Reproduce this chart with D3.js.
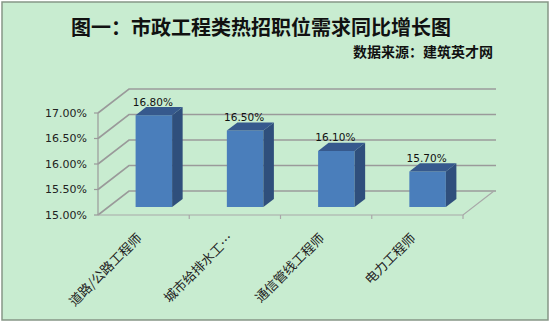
<!DOCTYPE html>
<html>
<head>
<meta charset="utf-8">
<script src="https://cdn.jsdelivr.net/npm/d3@7"></script>
<style>
  html, body { margin: 0; padding: 0; background: #ffffff; }
  svg { display: block; }
</style>
</head>
<body>
<svg id="chart" width="550" height="323"></svg>
<script>
var categories = ['道路/公路工程师', '城市给排水工…', '通信管线工程师', '电力工程师'];
var values = [16.80, 16.50, 16.10, 15.70];
var yTicks = [15.00, 15.50, 16.00, 16.50, 17.00];

var title = '图一：市政工程类热招职位需求同比增长图';
var source = '数据来源：建筑英才网';

var svg = d3.select('#chart');

// background + frame
svg.append('rect')
  .attr('x', 2).attr('y', 2)
  .attr('width', 546).attr('height', 318)
  .attr('fill', '#c8ecd0')
  .attr('stroke', '#869686')
  .attr('stroke-width', 1.5);

svg.append('text')
  .attr('x', 261).attr('y', 26)
  .attr('text-anchor', 'middle')
  .attr('dominant-baseline', 'central')
  .style('font-family', '"Noto Sans CJK SC", sans-serif')
  .style('font-weight', 'bold')
  .style('font-size', '20px')
  .attr('fill', '#111')
  .text(title);

svg.append('text')
  .attr('x', 493).attr('y', 51)
  .attr('text-anchor', 'end')
  .attr('dominant-baseline', 'central')
  .style('font-family', '"Noto Sans CJK SC", sans-serif')
  .style('font-weight', 'bold')
  .style('font-size', '14px')
  .attr('fill', '#111')
  .text(source);

/**
 * 3D projection: front plane + depth offset
 */
var depth = { dx: 31, dy: -24 };

var x = d3.scaleBand()
  .domain(categories)
  .range([98, 463])
  .paddingInner(0.6)
  .paddingOuter(0.3);

var xCat = d3.scaleBand()
  .domain(categories)
  .range([98, 463]);

var y = d3.scaleLinear()
  .domain([15, 17])
  .range([215, 113]);

function proj(px, py, z) {
  return [px + depth.dx * z, py + depth.dy * z];
}

var grid = svg.append('g').attr('class', 'grid');

var gridColor = '#9a9a9a';

// back wall gridlines + left wall diagonals
yTicks.forEach(function (t) {
  var a = proj(98, y(t), 0);
  var b = proj(98, y(t), 1);
  var c = proj(465, y(t), 1);
  grid.append('path')
    .attr('d', 'M' + a + 'L' + b + 'L' + c)
    .attr('fill', 'none')
    .attr('stroke', gridColor)
    .attr('stroke-width', 1.6);
});

// front y axis line + ticks
grid.append('line')
  .attr('x1', 98).attr('x2', 98)
  .attr('y1', y(17)).attr('y2', y(15))
  .attr('stroke', gridColor)
  .attr('stroke-width', 1.2);

yTicks.forEach(function (t) {
  grid.append('line')
    .attr('x1', 94).attr('x2', 98)
    .attr('y1', y(t)).attr('y2', y(t))
    .attr('stroke', gridColor)
    .attr('stroke-width', 1.2);
});

// floor edges
var fr = proj(463, y(15), 1);
grid.append('path')
  .attr('d', 'M98,' + y(15) + 'L463,' + y(15) + 'L' + fr)
  .attr('fill', 'none')
  .attr('stroke', '#a8a8a8')
  .attr('stroke-width', 1.2);

// category ticks on the floor edge
categories.forEach(function (c) {
  var xe = xCat(c) + xCat.bandwidth();
  grid.append('line')
    .attr('x1', xe).attr('x2', xe)
    .attr('y1', y(15)).attr('y2', y(15) + 4)
    .attr('stroke', '#a8a8a8')
    .attr('stroke-width', 1.2);
});

// y labels
svg.append('g')
  .selectAll('text')
  .data(yTicks)
  .enter()
  .append('text')
  .attr('x', 87)
  .attr('y', function (d) { return y(d); })
  .attr('text-anchor', 'end')
  .attr('dominant-baseline', 'central')
  .style('font-family', '"DejaVu Sans", Verdana, sans-serif')
  .style('font-size', '11px')
  .attr('fill', '#222')
  .text(function (d) { return d.toFixed(2) + '%'; });

/**
 * Bars
 */
var z1 = 0.33, z2 = 0.67;
var data = categories.map(function (c, i) { return { cat: c, value: values[i] }; });

var bars = svg.append('g')
  .selectAll('g.bar')
  .data(data)
  .enter()
  .append('g')
  .attr('class', 'bar');

function pts(arr) {
  return arr.map(function (p) { return p.join(','); }).join(' ');
}

// front face
bars.append('polygon')
  .attr('points', function (d) {
    var x0 = x(d.cat), x1 = x0 + x.bandwidth();
    return pts([proj(x0, y(d.value), z1), proj(x1, y(d.value), z1),
      proj(x1, y(15), z1), proj(x0, y(15), z1)]);
  })
  .attr('fill', '#4a7ebb');

// side face
bars.append('polygon')
  .attr('points', function (d) {
    var x1 = x(d.cat) + x.bandwidth();
    return pts([proj(x1, y(d.value), z1), proj(x1, y(d.value), z2),
      proj(x1, y(15), z2), proj(x1, y(15), z1)]);
  })
  .attr('fill', '#2f4f7c');

// top face
bars.append('polygon')
  .attr('points', function (d) {
    var x0 = x(d.cat), x1 = x0 + x.bandwidth();
    return pts([proj(x0, y(d.value), z1), proj(x0, y(d.value), z2),
      proj(x1, y(d.value), z2), proj(x1, y(d.value), z1)]);
  })
  .attr('fill', '#36598d');

// value labels
bars.append('text')
  .attr('x', function (d) { return proj(x(d.cat) + x.bandwidth() / 2, 0, z1)[0] - 1; })
  .attr('y', function (d) { return proj(0, y(d.value), z2)[1] - 1.5; })
  .attr('text-anchor', 'middle')
  .style('font-family', '"DejaVu Sans", Verdana, sans-serif')
  .style('font-size', '10.5px')
  .attr('fill', '#111')
  .text(function (d) { return d.value.toFixed(2) + '%'; });

// category labels, rotated
svg.append('g')
  .selectAll('text')
  .data(categories)
  .enter()
  .append('text')
  .attr('transform', function (d) {
    var cx = xCat(d) + xCat.bandwidth() / 2 - 1;
    return 'translate(' + cx + ',239) rotate(-45)';
  })
  .attr('text-anchor', 'end')
  .style('font-family', '"Noto Sans CJK SC", sans-serif')
  .style('font-size', '13px')
  .attr('fill', '#222')
  .text(function (d) { return d; });
</script>
</body>
</html>
